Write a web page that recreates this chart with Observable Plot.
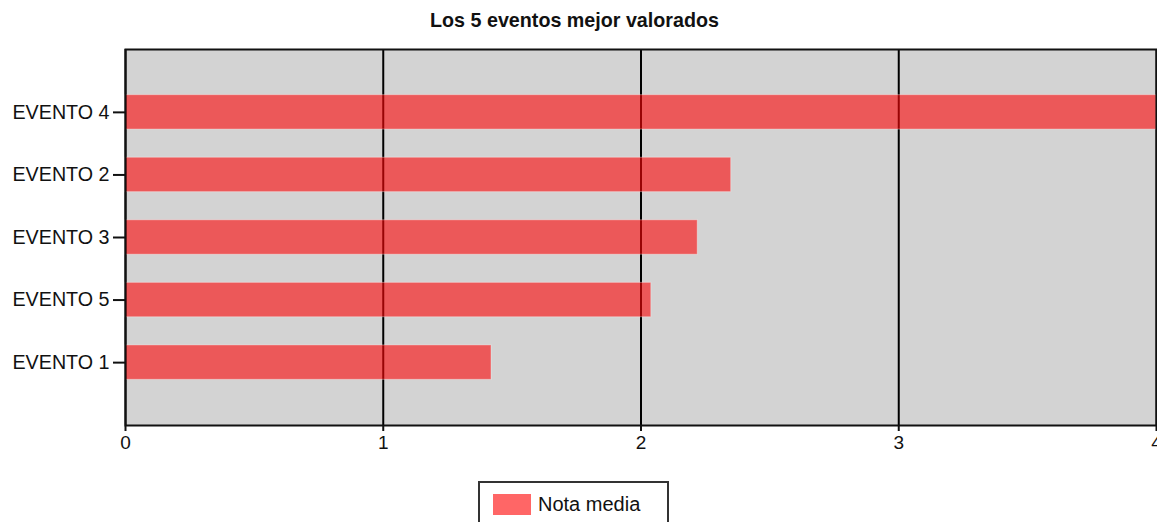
<!DOCTYPE html>
<html>
<head>
<meta charset="utf-8">
<script src="https://cdn.jsdelivr.net/npm/d3@7"></script>
<script src="https://cdn.jsdelivr.net/npm/@observablehq/plot@0.6"></script>
<style>
  html, body { margin: 0; padding: 0; background: #fff; }
  body { width: 1157px; height: 522px; overflow: hidden; font-family: "Liberation Sans", Arial, sans-serif; }
  #title { height: 40px; line-height: 40px; text-align: center; font-weight: bold; font-size: 19.7px; color: #111; margin-left: -8px; }
  #chart svg { display: block; }
  #legend { position: absolute; left: 478px; top: 481px; width: 191px; height: 60px; border: 2px solid #333; box-sizing: border-box; background: #fff; }
  #legend .sw { position: absolute; left: 13px; top: 11px; width: 38px; height: 21px; background: #ff6666; }
  #legend .lb { position: absolute; left: 58px; top: 8px; font-size: 20px; color: #111; line-height: 26px; }
</style>
</head>
<body>
<div id="title">Los 5 eventos mejor valorados</div>
<div id="chart"></div>
<div id="legend"><div class="sw"></div><div class="lb">Nota media</div></div>
<script>
const categories = ["EVENTO 4", "EVENTO 2", "EVENTO 3", "EVENTO 5", "EVENTO 1"];
const values = [4.0, 2.35, 2.22, 2.04, 1.42];
const xTicks = [0, 1, 2, 3, 4];
const seriesName = "Nota media";

const data = categories.map((c, i) => ({evento: c, nota: values[i]}));

const chart = Plot.plot({
  width: 1157,
  height: 440,
  marginLeft: 125,
  marginRight: 1,
  marginTop: 9,
  marginBottom: 55,
  style: {fontFamily: "'Liberation Sans', Arial, sans-serif", fontSize: "19.7px", color: "#111", background: "transparent"},
  x: {domain: [0, 4], ticks: xTicks, label: null, tickSize: 6, tickPadding: 4, tickFormat: "d"},
  y: {domain: categories, label: null, paddingInner: 0.45, paddingOuter: 0.73, round: false, tickSize: 12, tickPadding: 4},
  marks: [
    Plot.frame({fill: "#d3d3d3", stroke: null}),
    Plot.gridX(xTicks, {stroke: "#000", strokeOpacity: 1, strokeWidth: 2}),
    Plot.barX(data, {x: "nota", y: "evento", fill: "rgb(254,6,8)", fillOpacity: 0.6, stroke: "rgba(255,255,255,0.35)", strokeWidth: 1}),
    Plot.frame({stroke: "#111", strokeWidth: 2}),
    Plot.axisX({ticks: xTicks, tickFormat: "d", tickSize: 6, tickPadding: 4, stroke: "#111", strokeWidth: 2, fontSize: "19px"}),
    Plot.axisY({tickSize: 12, tickPadding: 4, stroke: "#111", strokeWidth: 2})
  ]
});
document.getElementById("chart").appendChild(chart);
document.querySelector("#legend .lb").textContent = seriesName;
</script>
</body>
</html>
